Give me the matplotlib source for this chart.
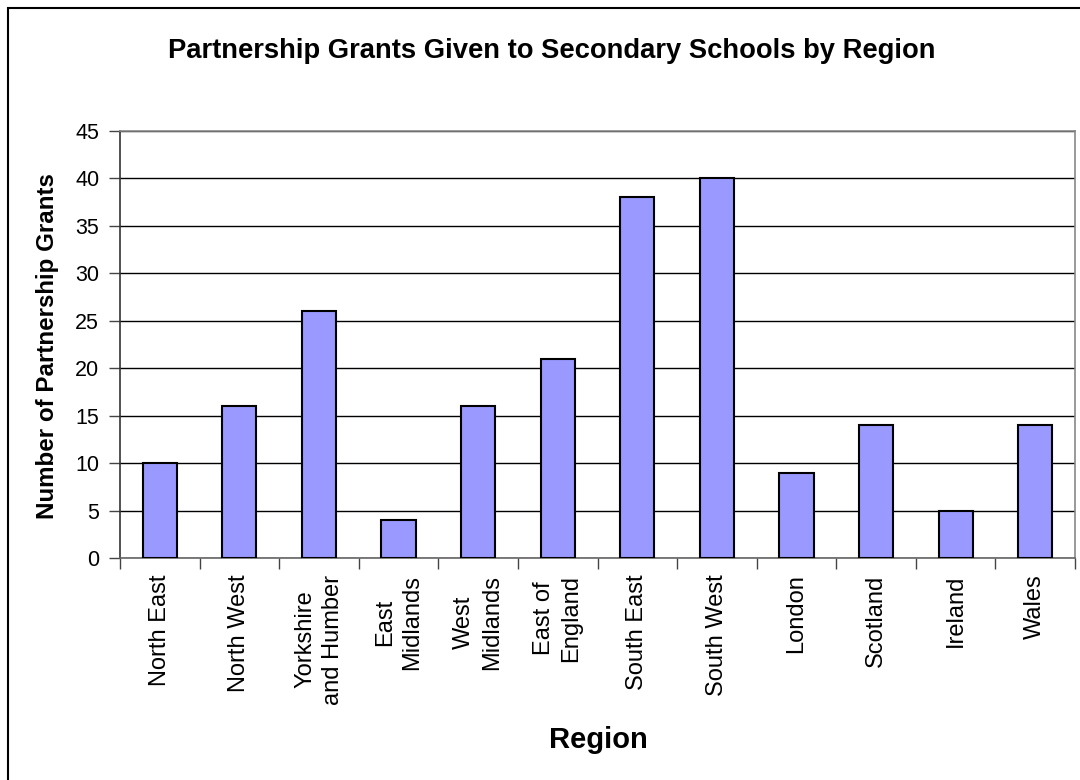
import matplotlib
matplotlib.use("Agg")
import matplotlib.pyplot as plt
from matplotlib.patches import Rectangle

plt.rcParams['font.family'] = ['Liberation Sans', 'DejaVu Sans']

regions = ["North East", "North West", "Yorkshire\nand Humber", "East\nMidlands",
           "West\nMidlands", "East of\nEngland", "South East", "South West",
           "London", "Scotland", "Ireland", "Wales"]
grants = [10, 16, 26, 4, 16, 21, 38, 40, 9, 14, 5, 14]
y_ticks = [0, 5, 10, 15, 20, 25, 30, 35, 40, 45]

fig = plt.figure(figsize=(10.8, 7.8), dpi=100)
ax = fig.add_axes([0.1111, 0.2846, 0.8843, 0.5475])

# outer chart frame (runs past the right and bottom edges of the canvas)
fig.patches.append(Rectangle((8 / 1080, -20 / 780), 1100 / 1080, 792 / 780,
                             transform=fig.transFigure, fill=False,
                             edgecolor='black', linewidth=1.5))

x = range(len(regions))
ax.bar(x, grants, width=0.43, color='#9999FF', edgecolor='black',
       linewidth=1.5, zorder=3)

ax.set_xlim(-0.5, len(regions) - 0.5)
ax.set_ylim(0, 45)
ax.set_yticks(y_ticks)
ax.yaxis.grid(True, color='black', linewidth=1.0, zorder=0)
ax.set_axisbelow(True)

ax.set_xticks([i - 0.5 for i in range(len(regions) + 1)])
ax.set_xticklabels([])
ax.tick_params(axis='x', direction='out', length=8, width=1, color='#444444')
ax.tick_params(axis='y', direction='out', length=8, width=1, color='#444444',
               labelsize=15.5, pad=7)

for i, name in enumerate(regions):
    ax.text(i, -1.75, name, rotation=90, ha='center', va='top',
            multialignment='center', fontsize=17, linespacing=1.33)

for side in ['top', 'right']:
    ax.spines[side].set_color('#888888')
    ax.spines[side].set_linewidth(1.2)
ax.spines['left'].set_color('#333333')
ax.spines['bottom'].set_color('#666666')
ax.spines['left'].set_linewidth(1.2)
ax.spines['bottom'].set_linewidth(1.2)

fig.text(552 / 1080, 1 - 51 / 780,
         "Partnership Grants Given to Secondary Schools by Region",
         ha='center', va='center', fontsize=19.7, fontweight='bold')
fig.text(598 / 1080, 1 - 740 / 780, "Region", ha='center', va='center',
         fontsize=21, fontweight='bold')
fig.text(48 / 1080, 1 - 346 / 780, "Number of Partnership Grants", rotation=90,
         ha='center', va='center', fontsize=17.4, fontweight='bold')

fig.savefig("out.png", dpi=100)
